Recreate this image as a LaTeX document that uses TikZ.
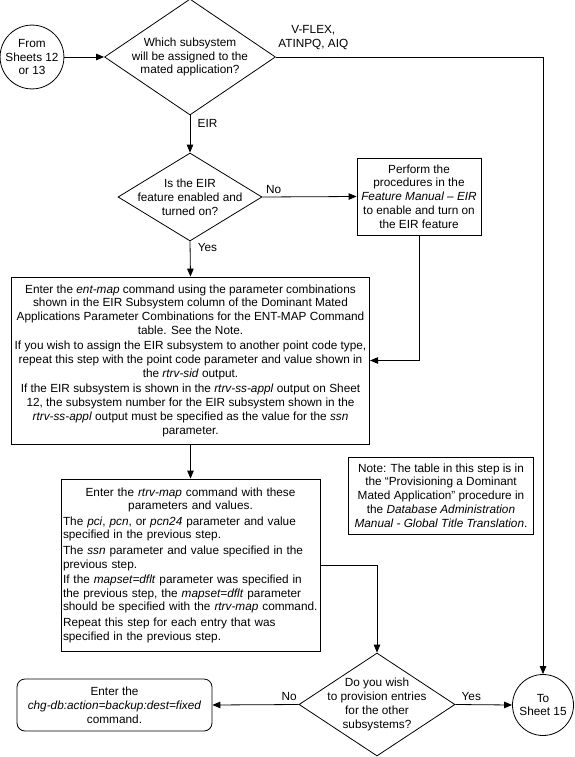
\documentclass[tikz,border=0pt]{standalone}
\usepackage{fontspec}
\setmainfont{Liberation Sans}
\usetikzlibrary{shapes.geometric,arrows.meta}

\begin{document}
\begin{tikzpicture}[x=1pt,y=-1pt,
	every node/.style={font=\fontsize{11.8}{13.8}\selectfont,align=center},
	conn/.style={shape=circle,draw=black,line width=0.8pt,minimum size=61pt,inner sep=0pt},
	decision/.style={shape=diamond,draw=black,line width=0.8pt,aspect=2,inner sep=-14pt},
	proc/.style={shape=rectangle,draw=black,line width=0.8pt},
	flow/.style={line width=0.8pt,-{Triangle[length=8pt,width=6.5pt]}}]
	\useasboundingbox (0,0) rectangle (575,757);

	\node[conn] (from) at (32, 57) {From\\Sheets 12\\or 13};
	\node[decision,minimum width=171pt,minimum height=116pt] (which) at (190, 57) {Which subsystem\\will be assigned to the\\mated application?};
	\node[decision,minimum width=144pt,minimum height=88pt] (eiron) at (190, 197) {Is the EIR\\feature enabled and\\turned on?};
	\node[proc,minimum width=124pt,minimum height=77pt] (eirproc) at (419, 196.5) {Perform the\\procedures in the\\\textit{Feature Manual -- EIR}\\to enable and turn on\\the EIR feature};
	\node[proc,minimum width=355pt,minimum height=167pt] (entmap) at (190.5, 360.5) {Enter the \textit{ent-map} command using the parameter combinations\\shown in the EIR Subsystem column of the Dominant Mated\\Applications Parameter Combinations for the ENT-MAP Command\\table. See the Note.\\[1.5pt]If you wish to assign the EIR subsystem to another point code type,\\repeat this step with the point code parameter and value shown in\\the \textit{rtrv-sid} output.\\[1.5pt]If the EIR subsystem is shown in the \textit{rtrv-ss-appl} output on Sheet\\12, the subsystem number for the EIR subsystem shown in the\\\textit{rtrv-ss-appl} output must be specified as the value for the \textit{ssn}\\parameter.};
	\node[proc,minimum width=259pt,minimum height=172pt,text width=255pt,inner xsep=2pt,align=left] (rtrvmap) at (190.5, 565) {{\centering Enter the \textit{rtrv-map} command with these\\parameters and values.\par}\vspace{1.5pt}The \textit{pci}, \textit{pcn}, or \textit{pcn24} parameter and value\\specified in the previous step.\par\vspace{1.5pt}The \textit{ssn} parameter and value specified in the\\previous step.\par\vspace{1.5pt}If the \textit{mapset=dflt} parameter was specified in\\the previous step, the \textit{mapset=dflt} parameter\\should be specified with the \textit{rtrv-map} command.\par\vspace{1.5pt}Repeat this step for each entry that was\\specified in the previous step.};
	\node[proc,minimum width=185pt,minimum height=77pt] (note) at (441, 495.5) {Note: The table in this step is in\\the ``Provisioning a Dominant\\Mated Application'' procedure in\\the \textit{Database Administration}\\\textit{Manual - Global Title Translation}.};
	\node[decision,minimum width=156pt,minimum height=103pt] (other) at (377, 704.5) {Do you wish\\to provision entries\\for the other\\subsystems?};
	\node[proc,rounded corners=8pt,minimum width=195pt,minimum height=52pt] (chgdb) at (114.5, 705) {Enter the\\\textit{chg-db:action=backup:dest=fixed}\\command.};
	\node[conn] (to) at (543, 705) {To\\Sheet 15};

	\draw[flow] (from) -- (which);
	\draw[flow] (which.east) -| node[pos=0.07,above=4pt]{V-FLEX,\\ATINPQ, AIQ} (to.north);
	\draw[flow] (which.south) -- node[pos=0.22,right=4pt]{EIR} (eiron.north);
	\draw[flow] (eiron.east) -- node[pos=0.12,above]{No} (eirproc.west);
	\draw[flow] (eiron.south) -- node[pos=0.17,right=4pt]{Yes} (entmap.north);
	\draw[flow] (eirproc.south) |- (entmap.east);
	\draw[flow] (entmap.south) -- (rtrvmap.north);
	\draw[flow] (rtrvmap.east) -| (other.north);
	\draw[flow] (other.west) -- node[pos=0.11,above]{No} (chgdb.east);
	\draw[flow] (other.east) -- node[pos=0.28,above]{Yes} (to.west);

\end{tikzpicture}
\end{document}
